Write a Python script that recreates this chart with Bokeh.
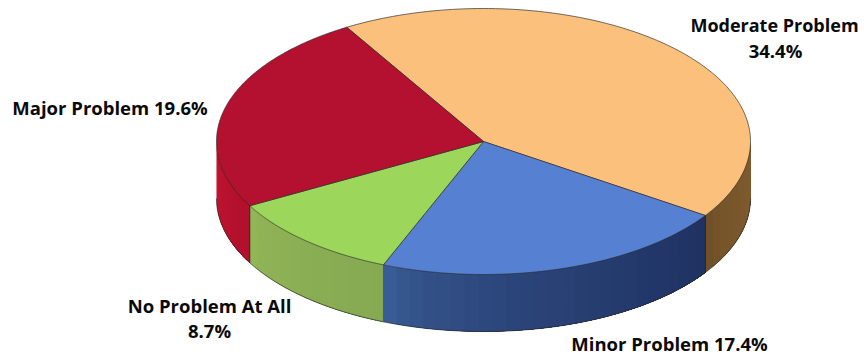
import numpy as np
from bokeh.plotting import figure
from bokeh.models import Range1d
from bokeh.core.properties import value
from bokeh.embed import file_html
from bokeh.resources import INLINE

# --- data (clockwise order, starting from the top-left edge of the orange slice)
categories = ["Moderate Problem", "Minor Problem", "No Problem At All", "Major Problem"]
percentages = [34.4, 17.4, 8.7, 19.6]

# --- style
top_colors = ["#FBC07B", "#5680D2", "#9CD65B", "#B4102F"]
side_left = [(112, 80, 40), (58, 92, 150), (146, 182, 86), (196, 22, 52)]     # colour at lower-left end of wall
side_right = [(128, 92, 46), (31, 50, 98), (134, 170, 82), (178, 16, 44)]

# --- layout, in page pixels
WIDTH, HEIGHT = 864, 356
CX, CY, RX, RY, DEPTH = 483.0, 141.0, 267.0, 133.0, 57.0
START_DEG = 120.8

p = figure(width=WIDTH, height=HEIGHT, output_backend="svg", toolbar_location=None,
           x_range=Range1d(0, WIDTH), y_range=Range1d(HEIGHT, 0),
           min_border=0, outline_line_color=None, background_fill_color="white")
p.axis.visible = False
p.grid.visible = False

total = sum(percentages)
sweeps = [v / total * 360.0 for v in percentages]
starts = START_DEG - np.concatenate([[0.0], np.cumsum(sweeps)[:-1]])


def ex(a):
    return CX + RX * np.cos(np.radians(a))


def ey(a, d=0.0):
    return CY - RY * np.sin(np.radians(a)) + d


def hexcol(c):
    return "#%02x%02x%02x" % tuple(int(round(v)) for v in c)


# front walls: the part of each slice whose rim lies on the lower half
for s, w, cl, cr in zip(starts, sweeps, side_left, side_right):
    hi, lo = s, s - w
    for shift in (0, -360):
        a_hi, a_lo = min(hi + shift, 0.0), max(lo + shift, -180.0)
        if a_hi <= a_lo:
            continue
        edges = np.linspace(a_lo, a_hi, max(int((a_hi - a_lo) / 3), 2) + 1)
        xs, ys, cols = [], [], []
        for i, a0 in enumerate(edges[:-1]):
            t = (i / max(len(edges) - 2, 1)) ** 0.6
            # each band runs on to the slice's far end; the next band paints over it, leaving no seam
            seg = np.linspace(a0, a_hi, 40)
            xs.append(list(ex(seg)) + list(ex(seg[::-1])))
            ys.append(list(ey(seg)) + list(ey(seg[::-1], DEPTH)))
            cols.append(hexcol(np.array(cl) * (1 - t) + np.array(cr) * t))
        p.patches(xs, ys, fill_color=cols, line_color=None)
        seg = np.linspace(a_lo, a_hi, 120)
        p.line(ex(seg), ey(seg, DEPTH), line_color="#2a2a2a", line_width=0.9, line_alpha=0.8)
        for a in (a_lo, a_hi):
            if -180.0 < a < 0.0:
                p.line([ex(a), ex(a)], [ey(a), ey(a, DEPTH)], line_color="#222222",
                       line_width=0.8, line_alpha=0.7)

# top surface
for s, w, c in zip(starts, sweeps, top_colors):
    arc = np.linspace(s, s - w, 200)
    p.patch([CX] + list(ex(arc)), [CY] + list(ey(arc)), fill_color=c, line_color="#2b2b2b",
            line_width=0.8, line_alpha=0.85)

# labels, built from the data
vals = dict(zip(categories, percentages))
label_rows = [
    (774, 24, "Moderate Problem", "18px"),
    (775, 50, f"{vals['Moderate Problem']}%", "18.5px"),
    (109.5, 107, f"Major Problem {vals['Major Problem']}%", "18.5px"),
    (209, 305, "No Problem At All", "18.5px"),
    (209, 330, f"{vals['No Problem At All']}%", "18.5px"),
    (669, 343, f"Minor Problem {vals['Minor Problem']}%", "18.5px"),
]
p.text(x=[r[0] for r in label_rows], y=[r[1] for r in label_rows], text=[r[2] for r in label_rows],
       text_font=value("Open Sans"), text_font_style="bold",
       text_font_size=[r[3] for r in label_rows],
       text_color="#0a0a0a", text_align="center", text_baseline="middle")

open("out.html", "w").write(file_html(p, INLINE))
